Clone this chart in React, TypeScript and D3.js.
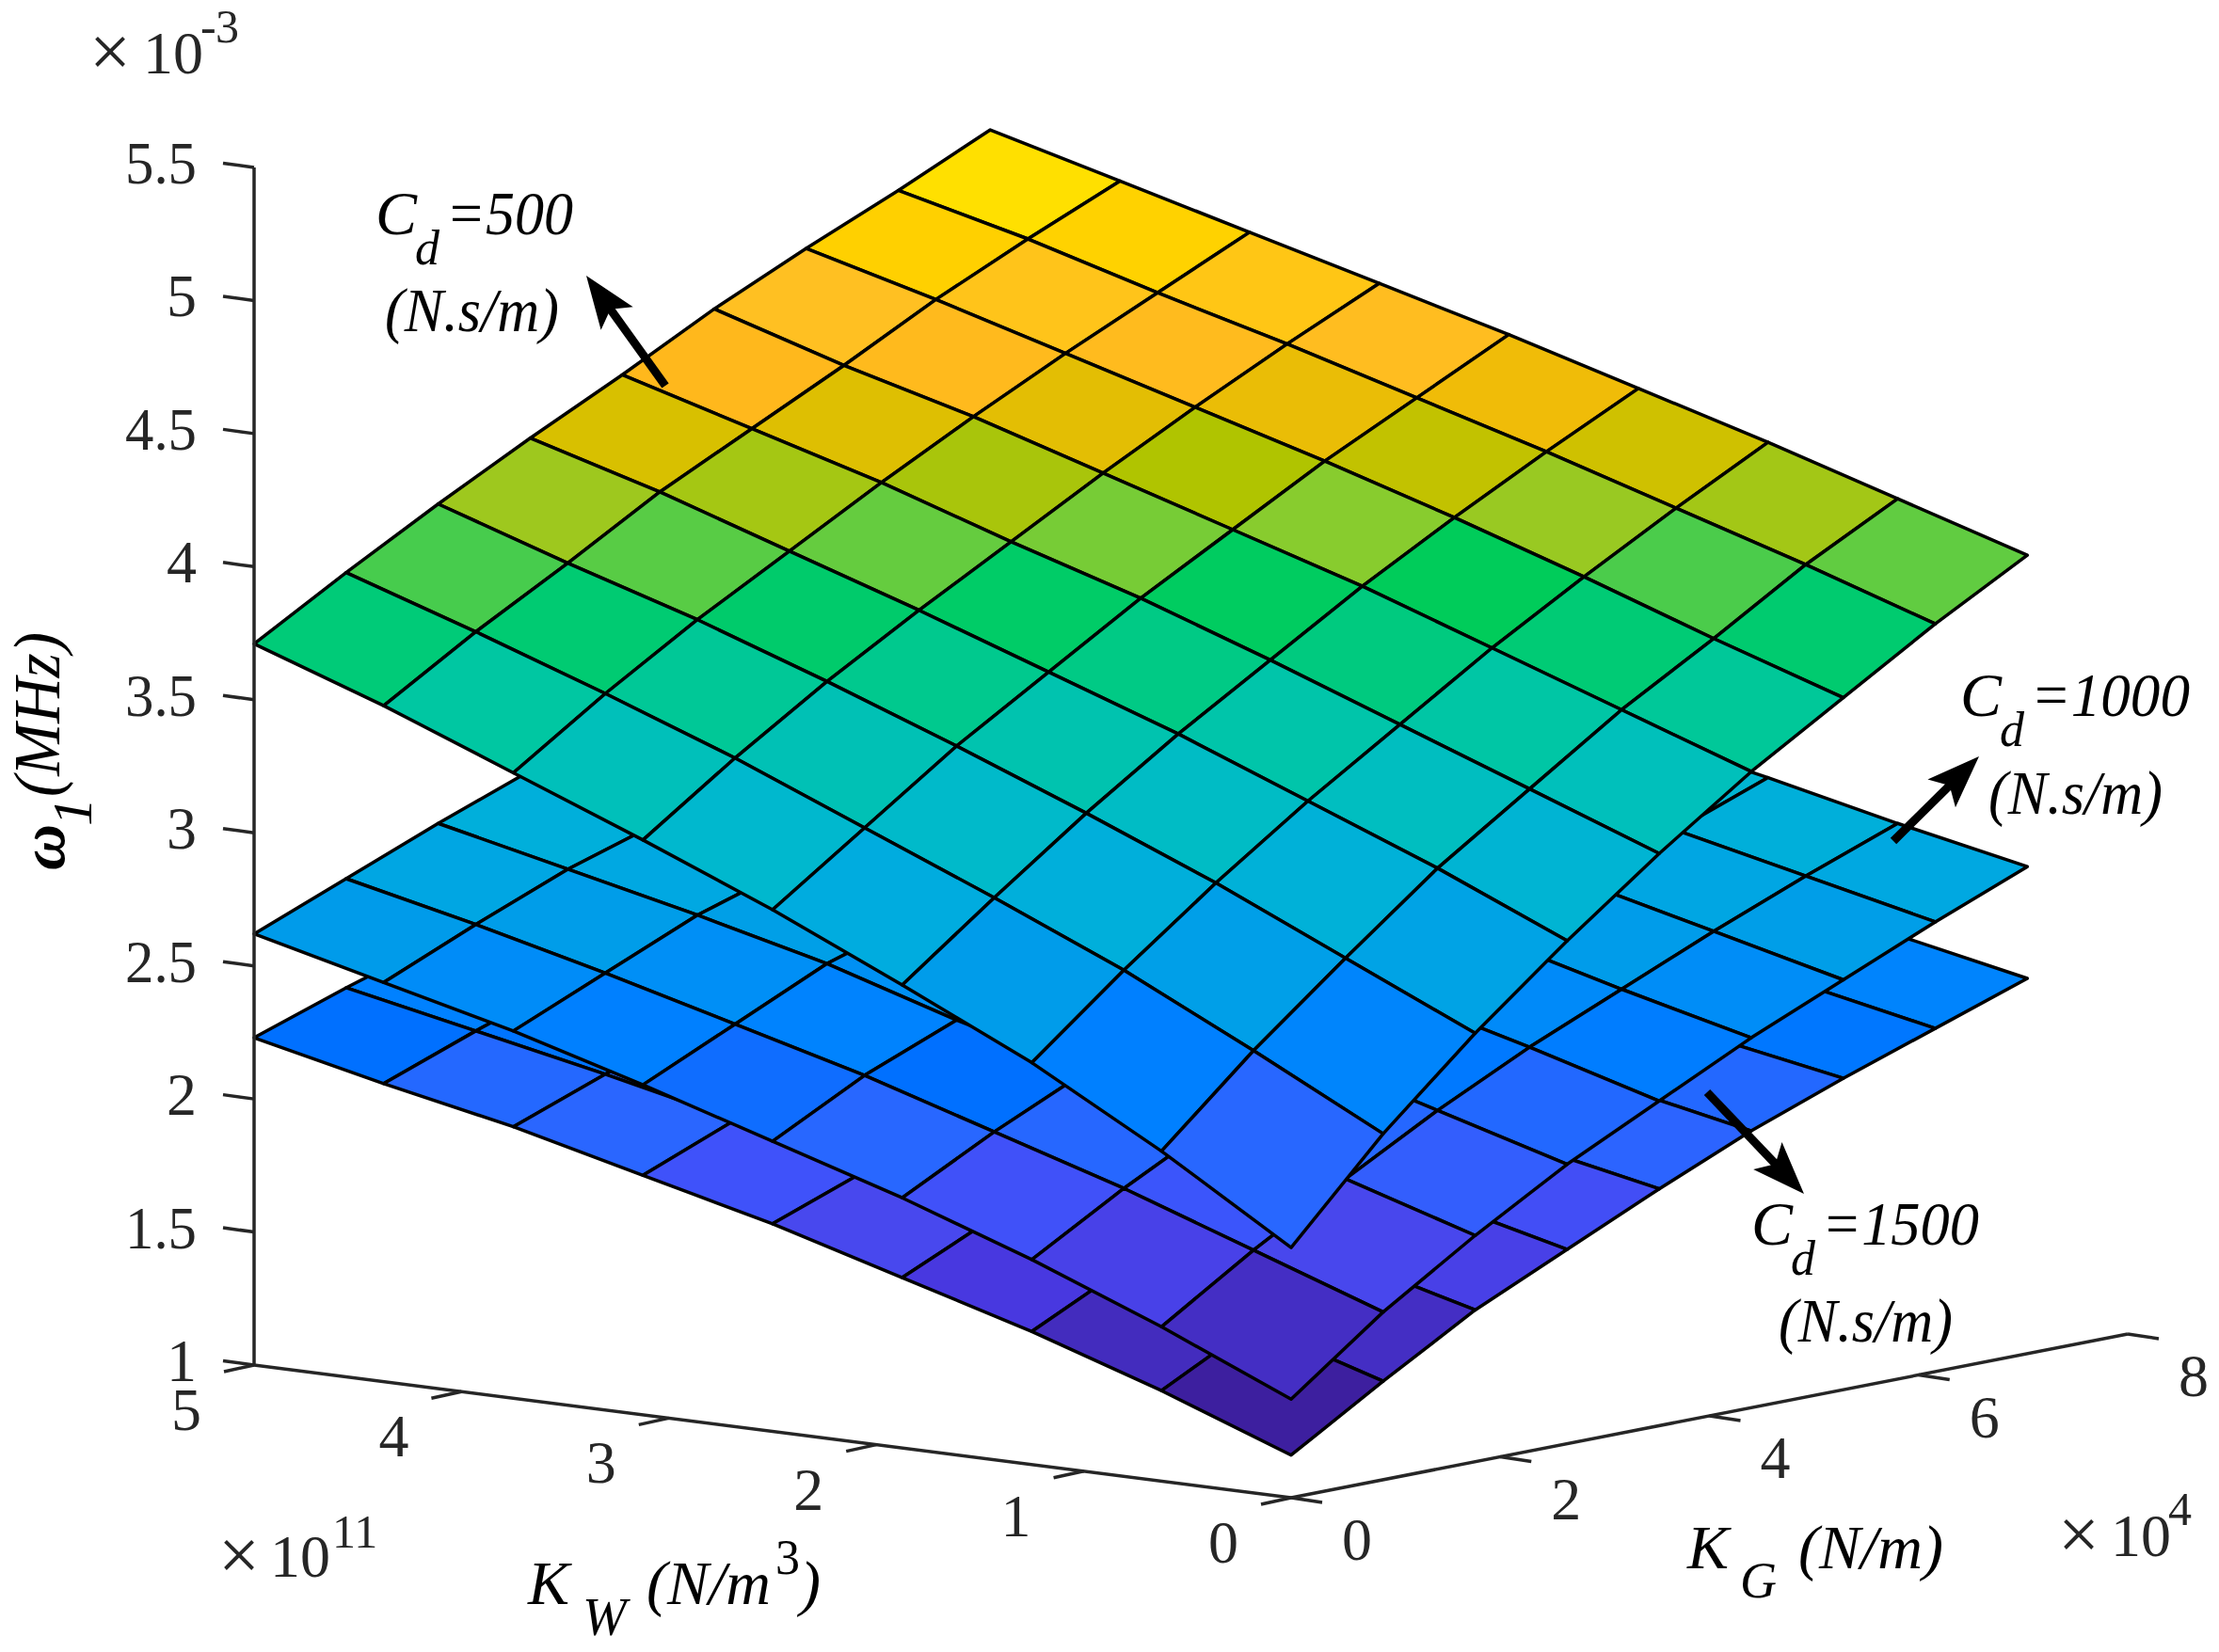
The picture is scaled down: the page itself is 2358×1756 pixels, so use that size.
import * as d3 from "d3";
import React, { useEffect, useRef } from "react";

// grid of the three surfaces (rows = KW, columns = KG)
const kgGrid = [0, 0.88, 1.76, 2.64, 3.52, 4.4, 5.28, 6.16, 7.04];
const kwGrid = [0, 0.625, 1.25, 1.875, 2.5, 3.125, 3.75, 4.375, 5];

const cd500 = [
  [1.94, 2.3, 2.61, 2.89, 3.15, 3.39, 3.6, 3.81, 4.0],
  [2.24, 2.55, 2.83, 3.1, 3.33, 3.56, 3.76, 3.97, 4.15],
  [2.51, 2.79, 3.05, 3.29, 3.51, 3.73, 3.93, 4.12, 4.3],
  [2.74, 3.0, 3.25, 3.48, 3.69, 3.9, 4.09, 4.27, 4.44],
  [2.96, 3.2, 3.44, 3.65, 3.86, 4.05, 4.24, 4.41, 4.58],
  [3.16, 3.4, 3.62, 3.82, 4.01, 4.2, 4.38, 4.55, 4.71],
  [3.35, 3.58, 3.79, 3.98, 4.17, 4.35, 4.52, 4.68, 4.84],
  [3.54, 3.75, 3.94, 4.14, 4.31, 4.48, 4.66, 4.82, 4.97],
  [3.71, 3.91, 4.1, 4.28, 4.45, 4.63, 4.79, 4.94, 5.1],
];

const cd1000 = [
  [1.37, 1.63, 1.85, 2.05, 2.22, 2.39, 2.54, 2.69, 2.83],
  [1.58, 1.8, 2.0, 2.19, 2.36, 2.51, 2.66, 2.8, 2.93],
  [1.77, 1.97, 2.15, 2.33, 2.49, 2.64, 2.78, 2.91, 3.04],
  [1.94, 2.12, 2.28, 2.44, 2.6, 2.74, 2.88, 3.01, 3.14],
  [2.09, 2.27, 2.41, 2.56, 2.7, 2.84, 2.98, 3.11, 3.24],
  [2.24, 2.4, 2.56, 2.67, 2.81, 2.94, 3.07, 3.2, 3.33],
  [2.38, 2.53, 2.68, 2.79, 2.91, 3.04, 3.17, 3.3, 3.42],
  [2.5, 2.65, 2.79, 2.9, 3.02, 3.14, 3.27, 3.39, 3.51],
  [2.62, 2.76, 2.9, 3.03, 3.16, 3.28, 3.39, 3.5, 3.6],
];

const cd1500 = [
  [1.16, 1.37, 1.57, 1.73, 1.89, 2.04, 2.17, 2.29, 2.41],
  [1.34, 1.52, 1.7, 1.85, 1.99, 2.14, 2.26, 2.39, 2.51],
  [1.5, 1.67, 1.83, 1.98, 2.11, 2.25, 2.37, 2.49, 2.6],
  [1.64, 1.8, 1.95, 2.09, 2.22, 2.35, 2.47, 2.58, 2.68],
  [1.78, 1.91, 2.06, 2.19, 2.32, 2.44, 2.56, 2.66, 2.75],
  [1.9, 2.04, 2.17, 2.29, 2.41, 2.53, 2.64, 2.74, 2.82],
  [2.02, 2.15, 2.27, 2.39, 2.5, 2.61, 2.72, 2.81, 2.88],
  [2.12, 2.25, 2.37, 2.48, 2.59, 2.69, 2.79, 2.87, 2.94],
  [2.23, 2.35, 2.46, 2.57, 2.67, 2.77, 2.85, 2.93, 3.0],
];

const zTicks = [1, 1.5, 2, 2.5, 3, 3.5, 4, 4.5, 5, 5.5];
const kwTicks = [0, 1, 2, 3, 4, 5];
const kgTicks = [0, 2, 4, 6, 8];

// colour map of the figure, z value -> colour
const colorZ = [1.16, 1.34, 1.5, 1.64, 1.78, 1.9, 2.05, 2.12, 2.24, 2.38, 2.5, 2.74, 2.96, 3.16, 3.35, 3.54, 3.73, 3.75, 3.9, 3.94, 4.05, 4.14, 4.27, 4.31, 4.48, 4.66, 4.82];
const colorHex = ["#3d1f9f", "#432cbe", "#4838e0", "#4848ee", "#3f52fa", "#2a66ff", "#2268ff", "#0070ff", "#0080ff", "#008cf8", "#009bea", "#00acdf", "#00b8ce", "#00c0ba", "#00c7a2", "#00cb78", "#00cc5a", "#47cc4d", "#88cc2e", "#9ec81e", "#b0c400", "#d8c000", "#f0bc08", "#ffb81c", "#ffc022", "#ffd000", "#ffe000"];

const FONT = "'Liberation Serif', 'Times New Roman', serif";
const AXIS_COLOR = "#262626";

const App: React.FC = () => {
  const chartRef = useRef<SVGSVGElement>(null);

  useEffect(() => {
    if (!chartRef.current) return;
    const svg = d3.select(chartRef.current);
    svg.selectAll("*").remove();

    // oblique projection of the MATLAB view, one scale per axis and direction
    const originX = 1372;
    const originY = 1592;
    const xKg = d3.scaleLinear().domain([0, 8]).range([0, 889]);
    const yKg = d3.scaleLinear().domain([0, 8]).range([0, -174]);
    const xKw = d3.scaleLinear().domain([0, 5]).range([0, -1102]);
    const yKw = d3.scaleLinear().domain([0, 5]).range([0, -141]);
    const yZ = d3.scaleLinear().domain([1, 5.5]).range([0, -1273]);

    const project = (kg: number, kw: number, z: number): [number, number] => [
      originX + xKg(kg) + xKw(kw),
      originY + yKg(kg) + yKw(kw) + yZ(z),
    ];

    const color = d3.scaleLinear<string>().domain(colorZ).range(colorHex).clamp(true);
    const path = d3.line();

    // back to front: lowest surface first, far cells of each surface first
    [cd1500, cd1000, cd500].forEach((surface) => {
      const g = svg.append("g");
      for (let j = kwGrid.length - 2; j >= 0; j--) {
        for (let i = kgGrid.length - 2; i >= 0; i--) {
          const quad = [
            project(kgGrid[i], kwGrid[j], surface[j][i]),
            project(kgGrid[i + 1], kwGrid[j], surface[j][i + 1]),
            project(kgGrid[i + 1], kwGrid[j + 1], surface[j + 1][i + 1]),
            project(kgGrid[i], kwGrid[j + 1], surface[j + 1][i]),
          ];
          g.append("path")
            .attr("d", path(quad) + "Z")
            .attr("fill", color(surface[j][i]))
            .attr("stroke", "#000")
            .attr("stroke-width", 3.5)
            .attr("stroke-linejoin", "round");
        }
      }
    });

    // axes
    const axes = svg.append("g").attr("stroke", AXIS_COLOR).attr("stroke-width", 3.5).attr("fill", "none");
    const seg = (a: [number, number], b: [number, number]) =>
      axes.append("line").attr("x1", a[0]).attr("y1", a[1]).attr("x2", b[0]).attr("y2", b[1]);

    seg(project(0, 5, 1), project(0, 5, 5.5));
    seg(project(0, 0, 1), project(0, 5, 1));
    seg(project(0, 0, 1), project(8, 0, 1));

    const text = (
      x: number,
      y: number,
      s: string,
      size = 62,
      italic = false,
      anchor = "start",
      fill = AXIS_COLOR,
      width?: number
    ) => {
      const t = svg
        .append("text")
        .attr("x", x)
        .attr("y", y)
        .attr("font-family", FONT)
        .attr("font-size", size)
        .attr("font-style", italic ? "italic" : "normal")
        .attr("text-anchor", anchor)
        .attr("fill", fill)
        .text(s);
      // glyphs of the reference are a bit condensed
      if (width) t.attr("textLength", width).attr("lengthAdjust", "spacingAndGlyphs");
      return t;
    };

    zTicks.forEach((t) => {
      const p = project(0, 5, t);
      seg(p, [p[0] - 33, p[1] - 4.5]);
      text(209, p[1] + 17, String(t), 64, false, "end", AXIS_COLOR, String(t).length > 1 ? 76 : undefined);
    });
    kwTicks.forEach((t) => {
      const p = project(0, t, 1);
      seg(p, [p[0] - 32, p[1] + 7]);
      text(p[0] - 72, p[1] + 69, String(t), 64, false, "middle");
    });
    kgTicks.forEach((t) => {
      const p = project(t, 0, 1);
      seg(p, [p[0] + 33, p[1] + 5]);
      text(p[0] + 70, p[1] + 66, String(t), 64, false, "middle");
    });

    // exponents
    text(95, 81, "\u00d7", 78);
    text(152, 78, "10", 64);
    text(213, 45, "-", 50);
    text(229, 45, "3", 50);
    text(232, 1679, "\u00d7", 78);
    text(287, 1676, "10", 64);
    text(353, 1645, "11", 50);
    text(2187, 1657, "\u00d7", 78);
    text(2243, 1654, "10", 64);
    text(2304, 1621, "4", 50);

    // axis titles
    text(561, 1705, "K", 66, true, "start", "#000");
    text(619, 1738, "W", 56, true, "start", "#000");
    text(687, 1705, "(N/m", 66, true, "start", "#000");
    text(824, 1673, "3", 52, false, "start", "#000");
    text(850, 1705, ")", 66, true, "start", "#000");

    text(1793, 1667, "K", 66, true, "start", "#000");
    text(1849, 1698, "G", 54, true, "start", "#000");
    text(1911, 1667, "(N/m)", 66, true, "start", "#000");

    const zTitle = svg.append("g").attr("transform", "translate(68,925) rotate(-90)");
    zTitle
      .append("text")
      .attr("font-family", FONT)
      .attr("font-size", 68)
      .attr("font-style", "italic")
      .attr("font-weight", "bold")
      .text("\u03c9");
    zTitle
      .append("text")
      .attr("x", 47)
      .attr("y", 29)
      .attr("font-family", FONT)
      .attr("font-size", 60)
      .attr("font-style", "italic")
      .text("1");
    zTitle
      .append("text")
      .attr("x", 78)
      .attr("y", -5)
      .attr("font-family", FONT)
      .attr("font-size", 70)
      .attr("font-style", "italic")
      .attr("textLength", 175)
      .attr("lengthAdjust", "spacingAndGlyphs")
      .text("(MHz)");

    // damping labels
    const cdLabel = (x: number, y: number, value: string, valueW: number, unitX: number, unitY: number) => {
      text(x, y, "C", 66, true, "start", "#000");
      text(x + 42, y + 32, "d", 52, true, "start", "#000");
      text(x + 75, y, "=" + value, 66, true, "start", "#000", valueW);
      text(unitX, unitY, "(N.s/m)", 66, true, "start", "#000", 185);
    };
    cdLabel(399, 249, "500", 135, 409, 352);
    cdLabel(2083, 761, "1000", 169, 2113, 865);
    cdLabel(1861, 1323, "1500", 167, 1890, 1426);

    // arrows
    const arrow = (x1: number, y1: number, x2: number, y2: number) => {
      const a = Math.atan2(y2 - y1, x2 - x1);
      const len = Math.hypot(x2 - x1, y2 - y1);
      const g = svg.append("g").attr("transform", `translate(${x1},${y1}) rotate(${(a * 180) / Math.PI})`);
      g.append("line").attr("x1", 0).attr("y1", 0).attr("x2", len - 30).attr("y2", 0).attr("stroke", "#000").attr("stroke-width", 9);
      g.append("path")
        .attr("d", path([[len, 0], [len - 56, -21], [len - 44, 0], [len - 56, 21]]) + "Z")
        .attr("fill", "#000");
    };
    arrow(707, 410, 623, 293);
    arrow(2012, 894, 2103, 804);
    arrow(1814, 1161, 1917, 1269);
  }, []);

  return (
    <svg
      ref={chartRef}
      width={2358}
      height={1756}
      style={{ position: "absolute", left: 0, top: 0, background: "#fff" }}
    />
  );
};

export default App;
